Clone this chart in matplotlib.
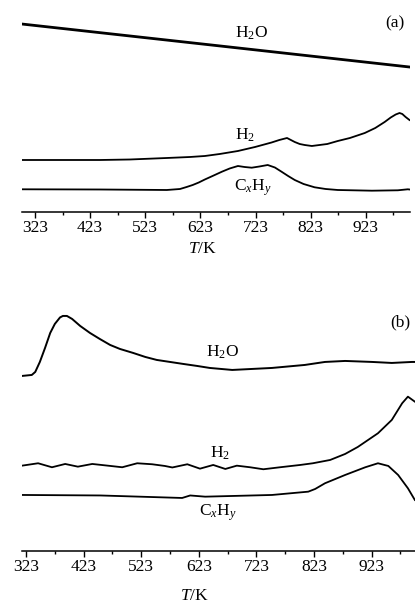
"""Two-panel TPD-style traces (H2O, H2, CxHy) vs temperature, panels (a) and (b)."""
import matplotlib

matplotlib.use("Agg")
import matplotlib.pyplot as plt

plt.rcParams["font.family"] = ["Liberation Serif", "DejaVu Serif"]
plt.rcParams["mathtext.fontset"] = "custom"
plt.rcParams["mathtext.rm"] = "Liberation Serif"
plt.rcParams["mathtext.it"] = "Liberation Serif:italic"

TICKS = [323, 423, 523, 623, 723, 823, 923]
MINOR = [373, 473, 573, 673, 773, 873, 973]

# ---- panel (a) ----
a_h2o_T = [299, 651, 1002]
a_h2o_I = [188, 166.5, 145]

a_h2_T = [299, 441, 495, 562, 604, 631, 658, 691, 722, 752, 766, 780, 787, 794,
          803, 812, 825, 853, 872, 894, 921, 940, 957, 968, 977, 984, 989, 995, 1002]
a_h2_I = [52, 52, 52.5, 54, 55, 56, 58, 61, 65, 69.5, 72, 74, 72, 70,
          68, 67, 66, 68, 71, 74, 79, 84, 90, 94.5, 97.5, 99, 98, 95, 92]

a_cxhy_T = [299, 440, 562, 586, 598, 609, 620, 631, 645, 662, 676, 691, 703,
            716, 730, 745, 758, 770, 782, 794, 810, 830, 850, 872, 934, 981, 999, 1002]
a_cxhy_I = [22.7, 22.5, 22, 23, 25, 27, 29.5, 32.5, 36, 40.3, 43.5, 46, 45,
            44.3, 45.5, 47, 44.5, 40.3, 36, 32, 28, 24.7, 23, 22, 21.3, 21.7, 22.7, 22.5]

# ---- panel (b) ----
b_h2o_T = [316, 333, 339, 347, 356, 365, 373, 382, 387, 394, 403, 417, 434,
           451, 469, 486, 509, 530, 550, 573, 596, 620, 642, 681, 750, 807,
           842, 877, 924, 958, 993, 998]
b_h2o_I = [175, 176, 179, 189, 203, 218, 227, 233.5, 235, 235, 232, 225, 218,
           212, 206, 202, 198, 194, 191, 189, 187, 185, 183, 181, 183, 186,
           189, 190, 189, 188, 189, 189]

b_h2_T = [316, 344, 368, 391, 413, 438, 465, 490, 516, 542, 564, 577, 603, 625,
          648, 669, 689, 712, 735, 764, 799, 821, 851, 877, 899, 934, 958, 976,
          986, 998]
b_h2_I = [85.3, 87.7, 83.7, 87, 84.3, 87, 85.3, 83.7, 87.7, 86.7, 85, 83.5, 86.7, 82.3,
          86, 82, 85.3, 83.7, 81.7, 83.7, 86, 87.7, 91, 97, 104, 117.7, 131, 147.7,
          154.3, 149.3]

b_cxhy_T = [316, 452, 594, 608, 634, 750, 813, 825, 842, 877, 912, 934, 952,
            969, 986, 998]
b_cxhy_I = [56, 55.5, 53, 55.5, 54.3, 56, 59.3, 62, 67.7, 76, 83.7, 87.7, 85,
            76, 62.7, 51]


def style_axis(ax, xlim, ylim):
    ax.set_xlim(*xlim)
    ax.set_ylim(*ylim)
    for s in ("left", "right", "top"):
        ax.spines[s].set_visible(False)
    ax.spines["bottom"].set_linewidth(1.1)
    ax.set_yticks([])
    ax.set_xticks(TICKS)
    ax.set_xticks(MINOR, minor=True)
    ax.tick_params(axis="x", which="major", direction="out", length=4, width=1.0,
                   pad=1.5, labelsize=12.5)
    ax.tick_params(axis="x", which="minor", direction="out", length=2.4, width=1.0)
    ax.patch.set_alpha(0)


fig = plt.figure(figsize=(4.15, 6.05), dpi=100)

ax_a = fig.add_axes([0.053, 0.6496, 0.935, 0.3504])
ax_a.plot(a_h2o_T, a_h2o_I, color="black", lw=2.0)
ax_a.plot(a_h2_T, a_h2_I, color="black", lw=1.3)
ax_a.plot(a_cxhy_T, a_cxhy_I, color="black", lw=1.3)
style_axis(ax_a, (299.5, 1003), (0, 212))
ax_a.text(716, 179, "H$_2$O", fontsize=12.5, ha="center", va="center")
ax_a.text(703, 77, "H$_2$", fontsize=12.5, ha="center", va="center")
ax_a.text(718, 24, "C$_x$H$_y$", fontsize=12.5, ha="center", va="center")
ax_a.text(975, 189, "(a)", fontsize=12.5, ha="center", va="center")
ax_a.set_xlabel("$T$/K", fontsize=12.5)
ax_a.xaxis.set_label_coords(0.464, -0.137)

ax_b = fig.add_axes([0.053, 0.0893, 0.947, 0.448])
ax_b.plot(b_h2o_T, b_h2o_I, color="black", lw=1.4)
ax_b.plot(b_h2_T, b_h2_I, color="black", lw=1.3)
ax_b.plot(b_cxhy_T, b_cxhy_I, color="black", lw=1.3)
style_axis(ax_b, (316, 998.3), (0, 271))
ax_b.text(665, 199, "H$_2$O", fontsize=12.5, ha="center", va="center")
ax_b.text(660, 98, "H$_2$", fontsize=12.5, ha="center", va="center")
ax_b.text(656, 38, "C$_x$H$_y$", fontsize=12.5, ha="center", va="center")
ax_b.text(972, 229, "(b)", fontsize=12.5, ha="center", va="center")
ax_b.set_xlabel("$T$/K", fontsize=12.5)
ax_b.xaxis.set_label_coords(0.438, -0.137)

fig.savefig("out.png", dpi=100)
